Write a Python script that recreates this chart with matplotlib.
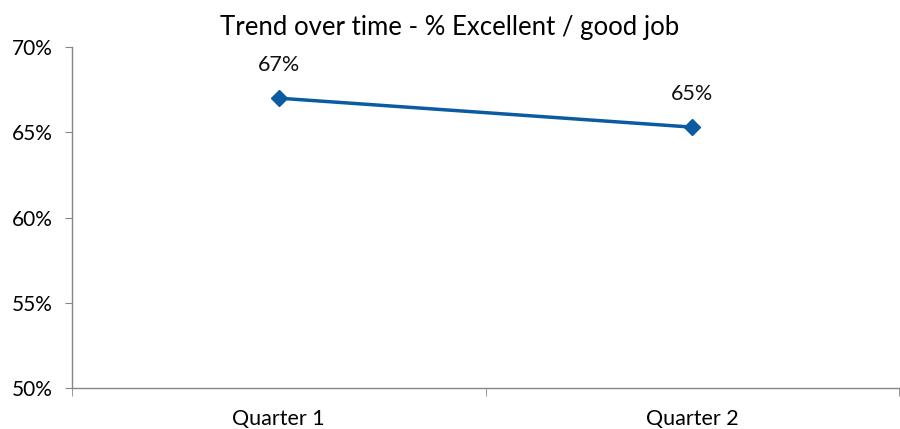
import matplotlib
matplotlib.use('Agg')
import matplotlib.pyplot as plt
from matplotlib.ticker import FixedLocator

# data
quarters = ['Quarter 1', 'Quarter 2']
pct_good = [67.0, 65.3]
pct_labels = ['67%', '65%']
y_ticks = [50, 55, 60, 65, 70]

plt.rcParams['font.family'] = ['Lato', 'DejaVu Sans']

fig = plt.figure(figsize=(9, 4.29), dpi=100)
ax = fig.add_axes([0.08, 0.0956, 0.919, 0.7948])

x = list(range(len(quarters)))
ax.plot(x, pct_good, color='#0B5BA2', lw=2.5, marker='D', ms=8.5, zorder=3)
for xi, v, lab in zip(x, pct_good, pct_labels):
    ax.annotate(lab, (xi, v), xytext=(0, 24), textcoords='offset points',
                ha='center', va='center', fontsize=15.5, color='#111111')

ax.set_xlim(-0.5, len(quarters) - 0.5)
ax.set_ylim(50, 70)
ax.set_yticks(y_ticks)
ax.set_yticklabels([f'{t}%' for t in y_ticks], fontsize=15)
ax.set_xticks(x)
ax.set_xticklabels(quarters, fontsize=15.5)
ax.xaxis.set_minor_locator(FixedLocator([i - 0.5 for i in range(len(quarters) + 1)]))
ax.tick_params(axis='x', which='major', length=0, pad=15)
ax.tick_params(axis='x', which='minor', length=6, color='#868686', direction='out')
ax.tick_params(axis='y', length=5, color='#868686', pad=9)

for s in ['top', 'right']:
    ax.spines[s].set_visible(False)
for s in ['left', 'bottom']:
    ax.spines[s].set_color('#868686')
    ax.spines[s].set_linewidth(1)

fig.text(0.5, 0.935, 'Trend over time - % Excellent / good job', ha='center', va='center', fontsize=18.5)

fig.savefig('out.png', dpi=100)
